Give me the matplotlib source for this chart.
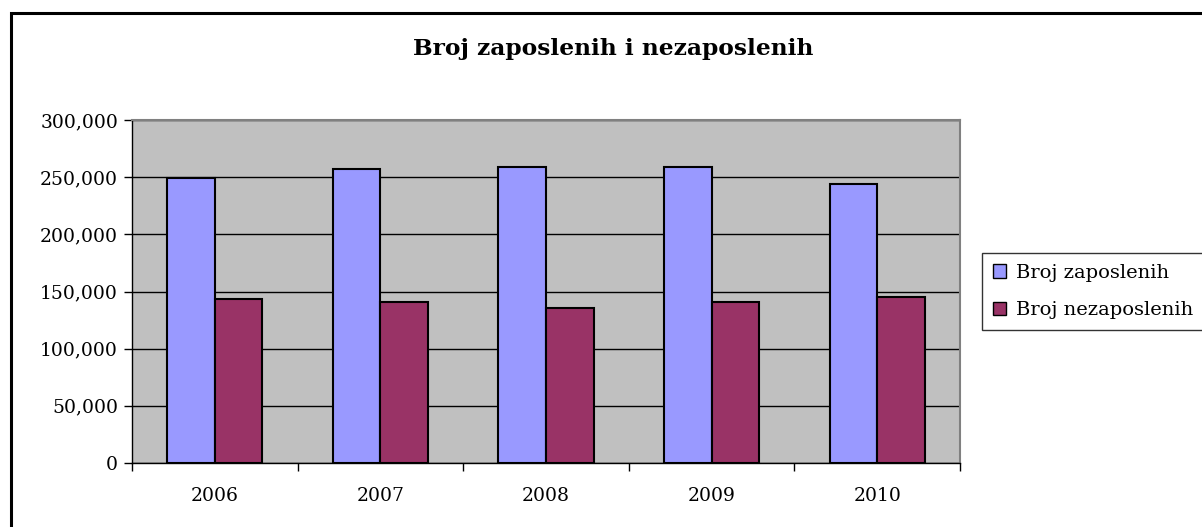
import matplotlib
matplotlib.use("Agg")
import matplotlib.pyplot as plt
from matplotlib.patches import Rectangle, Patch
from matplotlib.ticker import FuncFormatter, FixedLocator
import numpy as np

plt.rcParams['font.family'] = ['DejaVu Serif', 'Liberation Serif']

years = ['2006', '2007', '2008', '2009', '2010']
zaposleni = [248900, 257400, 259200, 259200, 244300]
nezaposleni = [143400, 140500, 135800, 140500, 144900]
series_names = ['Broj zaposlenih', 'Broj nezaposlenih']
title = 'Broj zaposlenih i nezaposlenih'

W, H = 1202, 527
fig = plt.figure(figsize=(W/100, H/100), dpi=100)
fig.patch.set_facecolor('white')

def fx(px):
    return px / W
def fy(py):
    return 1 - py / H

ax = fig.add_axes([fx(132), fy(463), fx(960) - fx(132), fy(120) - fy(463)])
ax.set_facecolor('#C0C0C0')

x = np.arange(len(years))
bw = 0.287
ax.bar(x - bw/2, zaposleni, bw, color='#9999FF', edgecolor='black', linewidth=1.5, zorder=3, label=series_names[0])
ax.bar(x + bw/2, nezaposleni, bw, color='#993366', edgecolor='black', linewidth=1.5, zorder=3, label=series_names[1])

ax.set_xlim(-0.5, len(years) - 0.5)
ax.set_ylim(0, 300000)
ax.set_yticks(np.arange(0, 300001, 50000))
ax.yaxis.set_major_formatter(FuncFormatter(lambda v, p: f'{int(v):,}'))
ax.yaxis.grid(True, color='black', linewidth=1, zorder=1)
ax.set_axisbelow(True)

ax.set_xticks(x)
ax.set_xticklabels(years)
ax.xaxis.set_minor_locator(FixedLocator(np.arange(-0.5, len(years), 1.0)))
ax.tick_params(axis='x', which='major', length=0, pad=17, labelsize=13.5)
ax.tick_params(axis='x', which='minor', length=6, width=1, direction='out')
ax.tick_params(axis='y', length=6, width=1, direction='out', labelsize=13.5, pad=4)

for s in ['left', 'bottom']:
    ax.spines[s].set_color('black')
    ax.spines[s].set_linewidth(1)
for s in ['top', 'right']:
    ax.spines[s].set_color('#808080')
    ax.spines[s].set_linewidth(1.5)

fig.text(fx(613), fy(49), title, ha='center', va='center', fontsize=16.8, fontweight='bold')

# legend
handles = [Patch(facecolor='#9999FF', edgecolor='black', linewidth=1),
           Patch(facecolor='#993366', edgecolor='black', linewidth=1)]
leg = fig.legend(handles, series_names, loc='upper left',
                 bbox_to_anchor=(fx(982), fy(253)), frameon=True, fancybox=False,
                 fontsize=14, handlelength=0.7, handleheight=0.7, handletextpad=0.5,
                 borderpad=0.55, labelspacing=1.0, borderaxespad=0)
leg.get_frame().set_edgecolor('black')
leg.get_frame().set_linewidth(1)

# outer border
fig.add_artist(Rectangle((fx(11), fy(540)), fx(1220) - fx(11), fy(13) - fy(540),
                         transform=fig.transFigure, fill=False, edgecolor='black',
                         linewidth=2.2, clip_on=False))

fig.savefig('out.png', dpi=100)
